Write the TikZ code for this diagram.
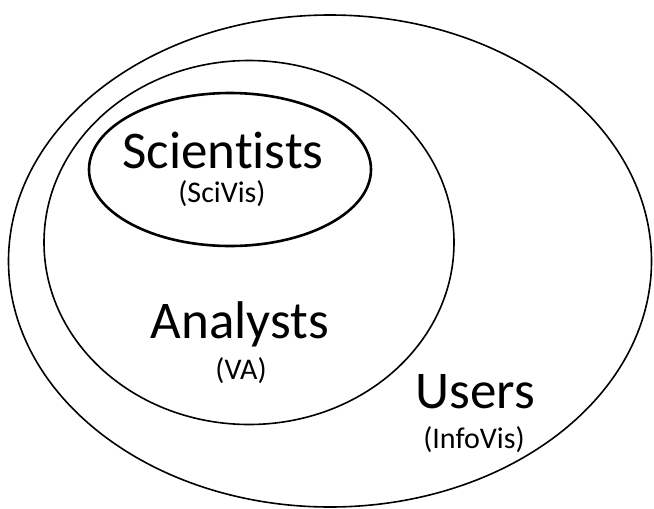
\documentclass[tikz,border=0pt]{standalone}
\usepackage{fontspec}
\setmainfont{Carlito}[Ligatures=NoCommon]
\usetikzlibrary{shapes.geometric}
\begin{document}
\begin{tikzpicture}[x=1pt,y=-1pt,
  ring/.style={draw=black,ellipse,inner sep=0pt,line width=1.6pt},
  big/.style={anchor=base,inner sep=0pt,font=\fontsize{53}{60}\selectfont},
  small/.style={anchor=base,inner sep=0pt,font=\fontsize{30}{34}\selectfont}]
\useasboundingbox (0,0) rectangle (654,509);
\node[ring,minimum width=643pt,minimum height=492pt] (users) at (330,261) {};
\node[ring,minimum width=410pt,minimum height=364pt] (analysts) at (249,242.5) {};
\node[ring,line width=2.6pt,minimum width=282pt,minimum height=153pt] (scientists) at (230,169.5) {};
\node[big] (tsci) at (223,168) {Scientists};
\node[small] (tscivis) at (222,202) {(SciVis)};
\node[big] (tana) at (240,338) {Analysts};
\node[small] (tva) at (241,379) {(VA)};
\node[big] (tusers) at (475,408) {Users};
\node[small] (tinfo) at (474,448) {(InfoVis)};
\end{tikzpicture}
\end{document}
